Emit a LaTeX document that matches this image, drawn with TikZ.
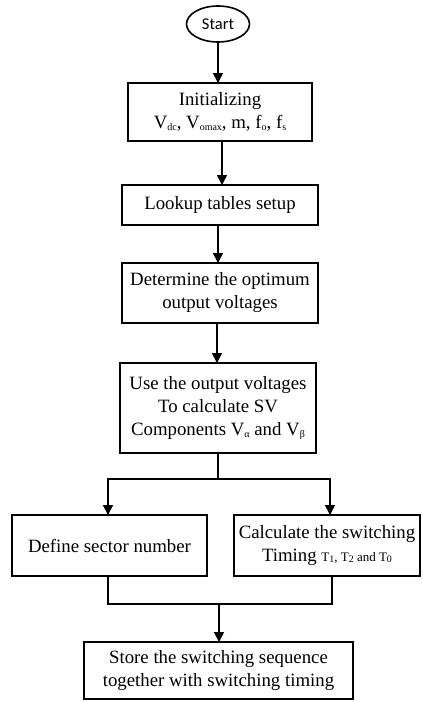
\documentclass[tikz,border=0pt]{standalone}
\usepackage{fontspec}
\setmainfont{Liberation Serif}
\newfontfamily\startfont{Carlito}
\usetikzlibrary{shapes.geometric,arrows.meta}
\newcommand{\sbx}[1]{\raisebox{-0.25ex}{\fontsize{10}{10}\selectfont #1}}
\begin{document}
\begin{tikzpicture}[x=1pt,y=-1pt,
  every node/.style={inner sep=0pt, outer sep=0pt},
  box/.style={draw, line width=1.6pt, align=center, font=\fontsize{18.8}{23}\selectfont},
  startnode/.style={draw, ellipse, line width=1.6pt, minimum width=63pt, minimum height=36pt, font=\startfont\fontsize{16.5}{18}\selectfont},
  conn/.style={line width=1.6pt},
  arr/.style={conn, -{Triangle[length=10pt,width=10pt]}}
]
\useasboundingbox (0,0) rectangle (423,702);
\node[startnode] (start) at (218,24) {Start};
\node[box, minimum width=184pt, minimum height=58pt] (init) at (220,112)
  {Initializing\\V\sbx{dc}, V\sbx{omax}, m, f\sbx{o}, f\sbx{s}};
\node[box, minimum width=196pt, minimum height=40pt] (lookup) at (220,205) {Lookup tables setup};
\node[box, minimum width=196pt, minimum height=60pt] (det) at (220,293) {Determine the optimum\\output voltages};
\node[box, minimum width=196pt, minimum height=90pt] (use) at (218,408) {Use the output voltages\\To calculate SV\\Components V\sbx{α} and V\sbx{β}};
\node[box, minimum width=195pt, minimum height=61pt] (def) at (109.5,545.5) {Define sector number};
\node[box, minimum width=186pt, minimum height=61pt] (calc) at (327,545.5) {Calculate the switching\\Timing {\fontsize{13}{15}\selectfont T\sbx{1}, T\sbx{2} and T\sbx{0}}};
\node[box, minimum width=269pt, minimum height=57pt] (store) at (218.5,670.5) {Store the switching sequence\\together with switching timing};
\coordinate (split) at (218,479);
\coordinate (join) at (219,604);
\draw[arr] (start.south) -- (start.south |- init.north);
\draw[arr] (init.south -| 222,0) -- (lookup.north -| 222,0);
\draw[arr] (lookup.south -| 218,0) -- (det.north -| 218,0);
\draw[arr] (det.south -| 217,0) -- (use.north -| 217,0);
\draw[conn] (use.south) -- (split);
\draw[arr] (split) -| (def.north -| 108,0);
\draw[arr] (split) -| (calc.north -| 330,0);
\draw[conn] (def.south -| 108,0) |- (join) -| (calc.south -| 332,0);
\draw[arr] (join) -- (store.north -| join);
\end{tikzpicture}
\end{document}
